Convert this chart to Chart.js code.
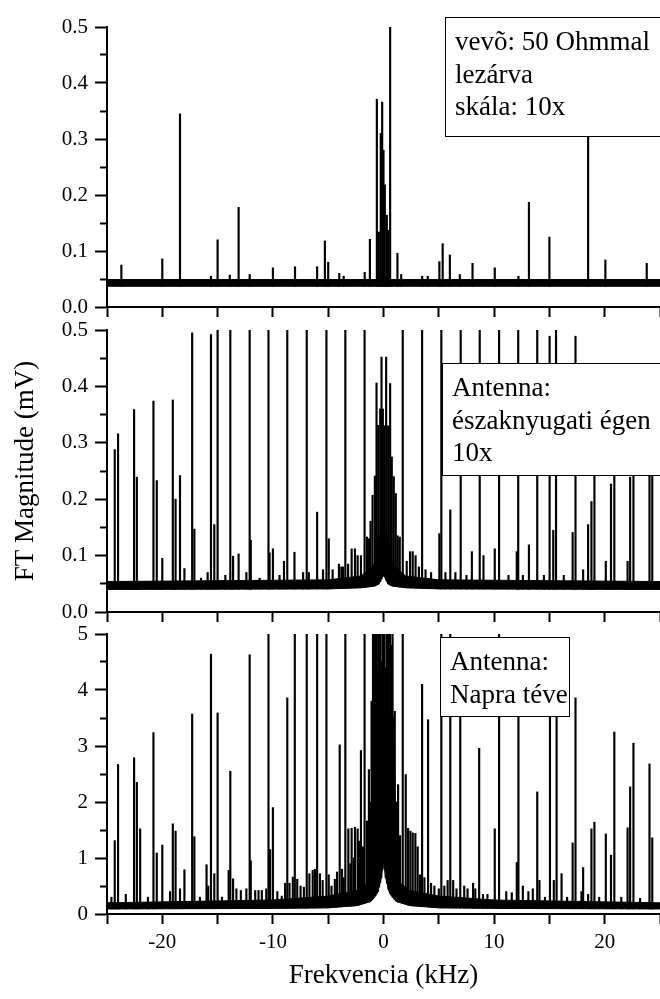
<!DOCTYPE html>
<html>
<head>
<meta charset="utf-8">
<script src="https://cdn.jsdelivr.net/npm/chart.js@4.4.1/dist/chart.umd.min.js"></script>
<style>
  html, body { margin: 0; padding: 0; background: #fff; }
  #wrap { position: relative; width: 660px; height: 999px; overflow: hidden; }
  #wrap canvas { position: absolute; left: 0; }
</style>
</head>
<body>
<div id="wrap">
  <canvas id="c1" width="660" height="320" style="top:0px"></canvas>
  <canvas id="c2" width="660" height="310" style="top:315px"></canvas>
  <canvas id="c3" width="660" height="380" style="top:619px"></canvas>
</div>
<script>
// x axis (kHz)
var xMin = -25, xMax = 25, xStep = 5;
var xLabelled = [-20, -10, 0, 10, 20];

// panel 1: receiver terminated with 50 Ohm (mV)
var termFreq = [-23.7, -20.0, -18.4, -15.6, -15.0, -13.9, -13.1, -12.1, -10.0, -8.0, -6.0, -5.3, -5.0, -4.0, -3.6,
  -1.7, -1.23, -0.6, -0.42, -0.25, -0.12, 0.0, 0.12, 0.3, 0.42, 0.6, 1.26, 1.6, 3.5, 4.0, 5.05, 5.35, 6.0, 6.9,
  8.05, 10.06, 12.2, 13.15, 15.0, 18.5, 20.06, 23.8];
var termMag = [0.075, 0.086, 0.345, 0.055, 0.12, 0.057, 0.178, 0.058, 0.07, 0.072, 0.072, 0.118, 0.08, 0.06, 0.055,
  0.062, 0.121, 0.371, 0.134, 0.31, 0.366, 0.28, 0.218, 0.164, 0.137, 0.5, 0.096, 0.058, 0.055, 0.055, 0.081, 0.113, 0.093, 0.058,
  0.078, 0.07, 0.055, 0.187, 0.125, 0.345, 0.084, 0.078];
var termFloorX = [-25, 25];
var termFloorLo = [0.037, 0.037];
var termFloorHi = [0.049, 0.049];

// panel 2: antenna to the north-west sky
var skyFreq = [-24.3, -24.0, -22.55, -22.3, -20.8, -20.5, -20.0, -19.05, -18.8, -18.4, -18.0, -17.3, -17.1, -16.5,
  -15.9, -15.6, -15.3, -15.0, -14.3, -13.85, -13.6, -13.1, -12.4, -12.1, -12.0, -11.2, -10.4, -10.3, -10.0, -9.4,
  -9.0, -8.7, -8.05, -7.27, -6.94, -6.75, -6.0, -5.47, -5.16, -4.95, -4.6, -4.03, -3.81, -3.66, -3.45, -3.2,
  -2.88, -2.58, -2.34, -2.04, -1.71, -1.5, -1.32, -1.17, -0.99, -0.78, -0.63, -0.48, -0.3, -0.18, -0.06,
  0.06, 0.24, 0.42, 0.6, 0.75, 0.93, 1.11, 1.29, 1.47, 1.74, 2.1, 2.4, 2.64, 2.9, 3.2, 3.49, 3.8, 4.3,
  5.05, 5.23, 5.6, 6.04, 6.5, 6.98, 7.5, 7.99, 8.7, 9.04, 10.06, 10.45, 11.3, 12.05, 12.18, 12.6, 13.15,
  13.9, 14.5, 15.02, 15.35, 15.6, 16.3, 17.1, 17.36, 18.05, 18.5, 18.8, 19.07, 20.1, 20.57, 20.87, 22.07,
  22.3, 22.6, 24.05, 24.3];
var skyMag = [0.288, 0.316, 0.359, 0.239, 0.374, 0.233, 0.095, 0.376, 0.2, 0.242, 0.077, 0.495, 0.147, 0.06,
  0.07, 0.492, 0.155, 0.5, 0.065, 0.5, 0.099, 0.103, 0.07, 0.5, 0.127, 0.06, 0.5, 0.105, 0.112, 0.065,
  0.09, 0.5, 0.106, 0.07, 0.5, 0.07, 0.177, 0.075, 0.5, 0.13, 0.075, 0.085, 0.08, 0.08, 0.5, 0.085,
  0.112, 0.112, 0.1, 0.1, 0.5, 0.133, 0.13, 0.161, 0.207, 0.241, 0.406, 0.331, 0.36, 0.452, 0.36,
  0.33, 0.452, 0.33, 0.405, 0.275, 0.24, 0.21, 0.135, 0.133, 0.5, 0.09, 0.107, 0.107, 0.1, 0.08, 0.5, 0.075, 0.07,
  0.139, 0.5, 0.07, 0.181, 0.07, 0.5, 0.065, 0.107, 0.5, 0.1, 0.112, 0.5, 0.065, 0.107, 0.5, 0.065, 0.119,
  0.5, 0.065, 0.489, 0.145, 0.5, 0.065, 0.141, 0.489, 0.075, 0.155, 0.196, 0.376, 0.09, 0.227, 0.374, 0.09,
  0.239, 0.359, 0.316, 0.288];
var skyFloorX = [-25, -5, -2, -0.8, -0.4, 0, 0.4, 0.8, 2, 5, 25];
var skyFloorLo = [0.04, 0.041, 0.043, 0.046, 0.05, 0.066, 0.05, 0.046, 0.043, 0.041, 0.04];
var skyFloorHi = [0.054, 0.057, 0.064, 0.085, 0.13, 0.15, 0.13, 0.085, 0.064, 0.057, 0.054];

// panel 3: antenna pointed at the Sun
var sunFreq = [-24.6, -24.3, -24.0, -23.3, -22.55, -22.3, -22.0, -21.3, -20.8, -20.5, -20.0, -19.3, -19.05, -18.8,
  -18.4, -18.0, -17.3, -17.1, -16.6, -16.0, -15.85, -15.6, -15.3, -15.0, -14.6, -14.0, -13.85, -13.6, -13.3,
  -12.9, -12.4, -12.1, -12.0, -11.6, -11.3, -11.0, -10.6, -10.4, -10.25, -10.0, -9.6, -9.2, -8.9, -8.7, -8.5,
  -8.2, -8.02, -7.8, -7.5, -7.2, -6.94, -6.7, -6.4, -6.2, -6.0, -5.75, -5.5, -5.16, -4.95, -4.7, -4.4, -4.2,
  -3.96, -3.75, -3.6, -3.45, -3.18, -3.0, -2.88, -2.7, -2.58, -2.34, -2.22, -2.04, -1.85, -1.71, -1.5, -1.32,
  -1.2, -1.08, -0.95, -0.83, -0.72, -0.6, -0.5, -0.4, -0.3, -0.2, -0.1, 0.0, 0.1, 0.2, 0.32, 0.45, 0.6, 0.7,
  0.82, 1.02, 1.15, 1.32, 1.5, 1.74, 2.01, 2.22, 2.43, 2.64, 2.88, 3.09, 3.3, 3.49, 3.7, 4.03, 4.3, 4.6, 5.0,
  5.23, 5.5, 5.8, 6.04, 6.3, 6.6, 6.94, 7.3, 7.6, 8.1, 8.3, 8.65, 9.0, 9.4, 10.06, 10.45, 11.1, 11.6, 12.05,
  12.2, 12.6, 13.1, 13.5, 13.9, 14.1, 14.6, 15.05, 15.4, 15.65, 16.1, 16.6, 17.1, 17.36, 17.9, 18.05, 18.5,
  18.8, 19.07, 19.5, 20.1, 20.57, 20.87, 21.5, 22.07, 22.3, 22.6, 23.2, 24.05, 24.3];
var sunMag = [0.3, 1.31, 2.67, 0.35, 2.79, 2.35, 1.52, 0.3, 3.24, 1.09, 1.23, 0.4, 1.61, 1.48,
  0.45, 0.79, 3.57, 1.38, 0.3, 0.88, 0.5, 4.64, 0.72, 3.59, 0.3, 0.78, 2.55, 0.63, 0.45,
  0.42, 0.45, 4.63, 0.95, 0.42, 0.42, 0.42, 0.45, 5, 1.15, 1.9, 0.4, 0.32, 0.55, 3.86, 0.55,
  0.66, 5, 0.62, 0.5, 0.48, 5, 0.72, 0.78, 0.8, 5, 0.72, 0.6, 5, 0.7, 0.5, 0.62, 0.75,
  3.02, 0.8, 0.65, 5, 1.52, 0.9, 1.53, 1.0, 1.55, 1.52, 1.3, 2.92, 1.2, 5, 1.66, 2.58,
  2.0, 3.8, 5, 5, 5, 5, 4.3, 5, 5, 4.5, 5, 5, 5, 4.4, 5, 5, 5, 4.8,
  5, 3.62, 2.0, 2.31, 1.4, 5, 2.49, 1.53, 1.48, 1.45, 1.44, 1.2, 0.7, 4.1, 0.65, 3.47, 0.55, 0.5, 0.45,
  5, 0.5, 0.6, 5, 0.6, 0.45, 4.6, 0.5, 0.45, 0.55, 0.45, 2.96, 0.35, 0.35, 1.52, 5, 0.4, 0.38, 0.92,
  4.6, 0.5, 0.4, 0.45, 2.18, 0.6, 0.3, 3.6, 0.6, 4.6, 0.72, 0.3, 1.27, 3.86, 0.4, 0.83, 0.35,
  1.52, 1.64, 0.3, 1.43, 1.05, 3.25, 0.3, 1.54, 2.27, 3.05, 0.28, 2.68, 1.36];
var sunFloorX = [-25, -10, -5, -2.4, -1.2, -0.9, -0.5, -0.2, 0, 0.2, 0.5, 0.9, 1.2, 2.4, 5, 10, 25];
var sunFloorLo = [0.09, 0.1, 0.11, 0.15, 0.22, 0.28, 0.4, 0.65, 0.95, 0.65, 0.4, 0.28, 0.22, 0.15, 0.11, 0.1, 0.09];
var sunFloorHi = [0.2, 0.25, 0.32, 0.42, 0.6, 3.5, 3.6, 3.6, 3.6, 3.6, 3.6, 3.5, 0.6, 0.42, 0.32, 0.25, 0.2];

Chart.defaults.font.family = '"Liberation Serif", "Times New Roman", serif';
Chart.defaults.color = '#000';

function floorAt(xs, ys, f) {
  if (f <= xs[0]) return ys[0];
  for (var i = 1; i < xs.length; i++) {
    if (f <= xs[i]) {
      var t = (f - xs[i - 1]) / (xs[i] - xs[i - 1]);
      return ys[i - 1] + t * (ys[i] - ys[i - 1]);
    }
  }
  return ys[ys.length - 1];
}

// white note boxes drawn over the traces
var noteBox = {
  id: 'noteBox',
  afterDatasetsDraw: function (chart, args, opts) {
    var b = opts.box;
    if (!b) return;
    var ctx = chart.ctx, xs = chart.scales.x, ys = chart.scales.y;
    var x1 = Math.round(xs.getPixelForValue(b.x[0])), x2 = Math.round(xs.getPixelForValue(b.x[1]));
    var y1 = Math.round(ys.getPixelForValue(b.y[1])), y2 = Math.round(ys.getPixelForValue(b.y[0]));
    ctx.save();
    ctx.fillStyle = '#fff';
    ctx.fillRect(x1, y1, x2 - x1, y2 - y1);
    ctx.strokeStyle = '#000';
    ctx.lineWidth = 1;
    ctx.strokeRect(x1 + 0.5, y1 + 0.5, x2 - x1, y2 - y1);
    ctx.fillStyle = '#000';
    ctx.font = '27px "Liberation Serif"';
    ctx.textBaseline = 'alphabetic';
    for (var i = 0; i < b.lines.length; i++) {
      ctx.fillText(b.lines[i], x1 + 10, y1 + 33 + i * 32.5);
    }
    ctx.restore();
  }
};

function isMajor(v, step) {
  var k = v / step;
  return Math.abs(k - Math.round(k)) < 1e-6;
}

function makePanel(id, freq, mag, fx, flo, fhi, o) {
  var spikes = freq.map(function (f, i) {
    return { x: f, y: [floorAt(fx, flo, f), mag[i]] };
  });
  var ctx = document.getElementById(id).getContext('2d');
  return new Chart(ctx, {
    type: 'bar',
    data: {
      datasets: [{
        type: 'bar',
        data: spikes,
        backgroundColor: '#000',
        barThickness: 1.5,
        grouped: false
      }, {
        type: 'line',
        data: fx.map(function (f, i) { return { x: f, y: flo[i] }; }),
        borderColor: '#000',
        borderWidth: 1,
        pointRadius: 0,
        fill: false
      }, {
        type: 'line',
        data: fx.map(function (f, i) { return { x: f, y: fhi[i] }; }),
        borderColor: '#000',
        backgroundColor: '#000',
        borderWidth: 1,
        pointRadius: 0,
        fill: '-1'
      }]
    },
    options: {
      responsive: false,
      animation: false,
      devicePixelRatio: 1,
      layout: { padding: { top: o.padTop, left: 0, right: 0, bottom: 0 } },
      plugins: {
        legend: { display: false },
        tooltip: { enabled: false },
        noteBox: { box: o.box }
      },
      scales: {
        x: {
          type: 'linear',
          min: xMin,
          max: xMax,
          offset: false,
          grid: { offset: false, drawOnChartArea: false, drawTicks: true, tickLength: 10, tickWidth: 2, tickColor: '#000' },
          border: { display: true, color: '#000', width: 2 },
          ticks: {
            stepSize: xStep,
            autoSkip: false,
            maxRotation: 0,
            padding: 6,
            font: { size: 21 },
            callback: function (v) {
              return (o.xLabels && xLabelled.indexOf(v) >= 0) ? String(v) : '';
            }
          },
          title: {
            display: !!o.xTitle,
            text: o.xTitle || '',
            font: { size: 27 },
            padding: { top: 0, bottom: 7 }
          },
          afterFit: function (s) {
            s.height = o.xHeight;
            s.paddingLeft = 0;
            s.paddingRight = 0;
          }
        },
        y: {
          type: 'linear',
          min: 0,
          max: o.yMax,
          grid: {
            drawOnChartArea: false,
            drawTicks: true,
            tickLength: 12,
            tickWidth: 2,
            tickColor: '#000',
            tickBorderDash: function (c) {
              return isMajor(c.tick.value, o.yMajor) ? [] : [0, 5, 7, 40];
            }
          },
          border: { display: true, color: '#000', width: 2 },
          ticks: {
            stepSize: o.yMajor / 2,
            autoSkip: false,
            padding: 7,
            font: { size: 21 },
            callback: function (v) {
              if (!isMajor(v, o.yMajor)) return '';
              return v.toFixed(o.yDigits);
            }
          },
          title: {
            display: !!o.yTitle,
            text: o.yTitle || '',
            font: { size: 27 },
            padding: { top: 10, bottom: 0 }
          },
          afterFit: function (s) {
            s.width = 107;
            s.paddingTop = 0;
            s.paddingBottom = 0;
          }
        }
      }
    },
    plugins: [noteBox]
  });
}

makePanel('c1', termFreq, termMag, termFloorX, termFloorLo, termFloorHi, {
  padTop: 27, xHeight: 13, yMax: 0.5, yMajor: 0.1, yDigits: 1, xLabels: false,
  box: { x: [5.6, 27], y: [0.305, 0.518], lines: ['vevõ: 50 Ohmmal', 'lezárva', 'skála: 10x'] }
});

makePanel('c2', skyFreq, skyMag, skyFloorX, skyFloorLo, skyFloorHi, {
  padTop: 15, xHeight: 13, yMax: 0.5, yMajor: 0.1, yDigits: 1, xLabels: false,
  yTitle: 'FT Magnitude (mV)',
  box: { x: [5.26, 27], y: [0.243, 0.441], lines: ['Antenna:', 'északnyugati égen', '10x'] }
});

makePanel('c3', sunFreq, sunMag, sunFloorX, sunFloorLo, sunFloorHi, {
  padTop: 15, xHeight: 85, yMax: 5, yMajor: 1, yDigits: 0, xLabels: true,
  xTitle: 'Frekvencia (kHz)',
  box: { x: [5.1, 16.76], y: [3.54, 4.95], lines: ['Antenna:', 'Napra téve'] }
});
</script>
</body>
</html>
